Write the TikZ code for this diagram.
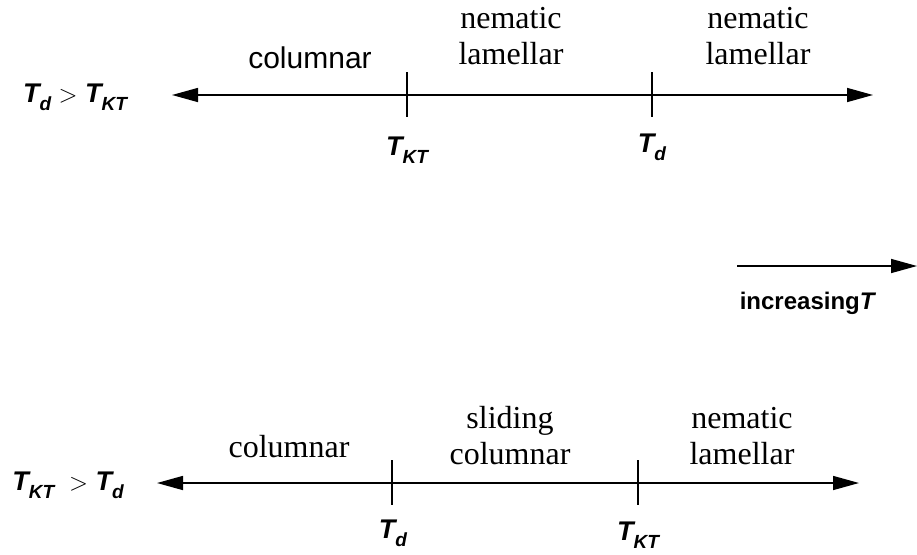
\documentclass[tikz,border=0pt]{standalone}
\usepackage{fontspec}
\setmainfont{Liberation Serif}
\setsansfont{Liberation Sans}
\usetikzlibrary{arrows.meta, positioning}

% bold italic sans T with lowered subscript
\newcommand{\Tsub}[1]{\textbf{\textit{T\raisebox{-8pt}{\fontsize{19}{19}\selectfont #1}}}}

\begin{document}
\begin{tikzpicture}[
    x=1pt, y=-1pt,
    axis/.style={draw, line width=1.5pt, {Triangle[length=26pt, width=14pt]}-{Triangle[length=26pt, width=14pt]}},
    tickmark/.style={draw, line width=1.4pt},
    phase/.style={font=\fontsize{32}{36}\selectfont, align=center, inner sep=0pt},
    phasesf/.style={font=\sffamily\fontsize{30}{32}\selectfont, inner sep=0pt},
    tlabel/.style={font=\sffamily\fontsize{27}{29}\selectfont, inner sep=0pt},
    keylabel/.style={font=\sffamily\bfseries\fontsize{24}{26}\selectfont, inner sep=0pt}
]
    \useasboundingbox (0,0) rectangle (917,554);

    % upper axis: T_d > T_KT
    \coordinate (topL) at (172,95);
    \coordinate (topR) at (873,95);
    \coordinate (topKT) at (407,95);
    \coordinate (topD) at (652,95);
    \path[axis] (topL) -- (topR);
    \path[tickmark] (topKT) +(0,-23) -- +(0,22);
    \path[tickmark] (topD) +(0,-23) -- +(0,22);
    \node[tlabel] (cond1) at (75,97) {\Tsub{d} $>$ \Tsub{KT}};
    \node[tlabel] (lblKT1) at (407,150) {\Tsub{KT}};
    \node[tlabel] (lblD1) at (652,147) {\Tsub{d}};
    \node[phasesf] (col1) at (310,58) {columnar};
    \node[phase] (nem1) at (511,36) {nematic\\lamellar};
    \node[phase] (nem2) at (758,36) {nematic\\lamellar};

    % direction key
    \coordinate (keyL) at (737,266);
    \coordinate (keyR) at (917,266);
    \path[draw, line width=1.5pt, -{Triangle[length=26pt, width=14pt]}] (keyL) -- (keyR);
    \node[keylabel] (keytext) at (808,303) {increasing\textit{T}};

    % lower axis: T_KT > T_d
    \coordinate (botL) at (157,483);
    \coordinate (botR) at (859,483);
    \coordinate (botD) at (392,483);
    \coordinate (botKT) at (638,483);
    \path[axis] (botL) -- (botR);
    \path[tickmark] (botD) +(0,-23) -- +(0,22);
    \path[tickmark] (botKT) +(0,-23) -- +(0,22);
    \node[tlabel] (cond2) at (68,485) {\Tsub{KT}\ \ $>$ \Tsub{d}};
    \node[tlabel] (lblD2) at (393,533) {\Tsub{d}};
    \node[tlabel] (lblKT2) at (638,535) {\Tsub{KT}};
    \node[phase] (col2) at (289,447) {columnar};
    \node[phase] (slide) at (510,436) {sliding\\columnar};
    \node[phase] (nem3) at (742,436) {nematic\\lamellar};
\end{tikzpicture}
\end{document}
